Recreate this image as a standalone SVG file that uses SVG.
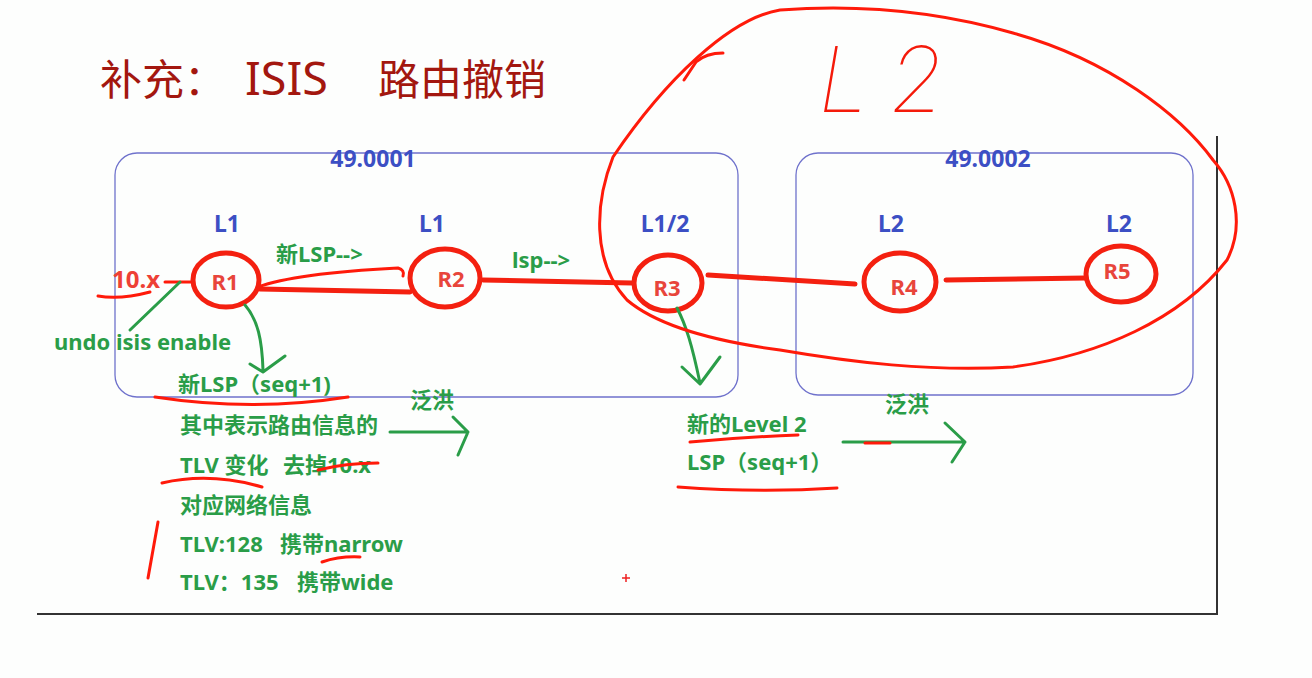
<svg xmlns="http://www.w3.org/2000/svg" width="1312" height="678" viewBox="0 0 1312 678">
<defs>
<style>
.bg{fill:#fdfefd}
.area{fill:none;stroke:#6f72cc;stroke-width:1.3}
.frame{fill:none;stroke:#333;stroke-width:2}
.blue{font-family:"Noto Sans","Noto Sans CJK SC",sans-serif;font-weight:bold;font-size:23px;fill:#3c4fc4}
.rt{fill:none;stroke:#f42010;stroke-width:5}
.rl{font-family:"Noto Sans",sans-serif;font-weight:bold;font-size:22px;fill:#e8453b;text-anchor:middle}
.link{fill:none;stroke:#f42010;stroke-width:5;stroke-linecap:round}
.pen{fill:none;stroke:#ff1a0a;stroke-width:3;stroke-linecap:round;stroke-linejoin:round}
.gpen{fill:none;stroke:#2a9d48;stroke-width:3;stroke-linecap:round;stroke-linejoin:round}
.g{font-family:"Noto Sans","Noto Sans CJK SC",sans-serif;font-weight:bold;font-size:22px;fill:#2a9d48}
.title{font-family:"Noto Sans CJK SC",sans-serif;font-size:42px;fill:#a3170f}
</style>
</defs>
<rect class="bg" x="0" y="0" width="1312" height="678"/>
<text class="title" y="95"><tspan x="100">补充：</tspan><tspan x="245" font-family="Noto Sans,sans-serif" font-size="45" textLength="83" lengthAdjust="spacingAndGlyphs">ISIS</tspan><tspan x="378">路由撤销</tspan></text>
<path class="frame" d="M37,614 H1217 V136"/>
<g id="area1"><rect class="area" x="115" y="153" width="623" height="244" rx="22"/><text class="blue" x="373" y="167" text-anchor="middle">49.0001</text></g>
<g id="area2"><rect class="area" x="796" y="153" width="397" height="242" rx="22"/><text class="blue" x="988" y="167" text-anchor="middle">49.0002</text></g>
<g id="connectors">
<path class="link" d="M260,289 L410,292"/>
<path class="link" d="M483,280 L632,283"/>
<path class="link" d="M708,275 L855,284"/>
<path class="link" d="M946,280 L1086,278"/>
<path class="pen" d="M165,282 L192,282"/>
<path class="pen" d="M258,287 C290,275 360,270 398,268 Q405,270 403,276"/>
</g>
<g id="R1"><text class="blue" x="227" y="232" text-anchor="middle">L1</text><ellipse class="rt" cx="226" cy="280" rx="33" ry="27"/><text class="rl" x="225" y="290">R1</text></g>
<g id="R2"><text class="blue" x="432" y="232" text-anchor="middle">L1</text><ellipse class="rt" cx="445" cy="278" rx="35" ry="29"/><text class="rl" x="451" y="287">R2</text></g>
<g id="R3"><text class="blue" x="665" y="232" text-anchor="middle">L1/2</text><ellipse class="rt" cx="668" cy="283" rx="34" ry="28"/><text class="rl" x="667" y="296">R3</text></g>
<g id="R4"><text class="blue" x="891" y="232" text-anchor="middle">L2</text><ellipse class="rt" cx="900" cy="282" rx="36" ry="29"/><text class="rl" x="904" y="295">R4</text></g>
<g id="R5"><text class="blue" x="1119" y="232" text-anchor="middle">L2</text><ellipse class="rt" cx="1121" cy="274" rx="35" ry="28"/><text class="rl" x="1117" y="279">R5</text></g>
<g id="annotations">
<text x="112" y="288" font-family="Noto Sans,sans-serif" font-weight="bold" font-size="24" fill="#ee4035">10.x</text>
<path class="pen" d="M98,296 Q120,300 150,292"/>
<path class="gpen" d="M180,282 L130,330"/>
<text class="g" x="54" y="350">undo isis enable</text>
<text class="g" x="276" y="262">新LSP--&gt;</text>
<text class="g" x="512" y="268">lsp--&gt;</text>
<path class="gpen" d="M245,305 C258,320 262,340 263,370 M250,364 L263,372 L285,356"/>
<path class="gpen" d="M677,308 C686,325 692,345 700,383 M682,367 L700,384 L720,357"/>
<text class="g" x="178" y="392">新LSP（seq+1)</text>
<text class="g" x="180" y="433">其中表示路由信息的</text>
<text class="g" y="473"><tspan x="180">TLV 变化</tspan><tspan x="283">去掉10.x</tspan></text>
<text class="g" x="180" y="513">对应网络信息</text>
<text class="g" y="552"><tspan x="180">TLV:128</tspan><tspan x="280">携带narrow</tspan></text>
<text class="g" y="590"><tspan x="180">TLV：135</tspan><tspan x="297">携带wide</tspan></text>
<text class="g" x="410" y="408">泛洪</text>
<path class="gpen" d="M390,432 L468,432 M453,417 L468,432 L458,455"/>
<path class="pen" d="M155,397 Q253,412 348,397"/>
<path class="pen" d="M162,483 Q210,472 262,487"/>
<path class="pen" d="M318,470 Q345,463 378,463"/>
<path class="pen" d="M158,522 L148,578"/>
<path class="pen" d="M322,562 Q340,556 360,557"/>
<text class="g" x="687" y="432">新的Level 2</text>
<text class="g" x="687" y="470">LSP（seq+1）</text>
<text class="g" x="885" y="412">泛洪</text>
<path class="gpen" d="M843,442 L965,442 M945,423 L965,442 L952,462"/>
<path class="pen" d="M865,443 L890,443"/>
<path class="pen" d="M690,442 Q745,437 798,435"/>
<path class="pen" d="M678,487 Q760,493 837,488"/>
<path d="M622,578 H630 M626,574 V582" stroke="#ee2020" stroke-width="1.5"/>
<path class="pen" d="M780,10 C730,18 665,80 613,157 C596,200 590,260 627,300 C660,328 720,342 780,350 C850,362 930,372 1013,367 C1100,355 1180,320 1227,260 C1245,225 1235,185 1213,160 C1180,115 1110,60 1013,33 C940,12 860,4 780,10 Z"/>
<path class="pen" d="M723,53 Q706,53 696,62 L684,80"/>
<text x="820" y="112" font-family="Roboto,sans-serif" font-weight="100" font-style="italic" font-size="92" letter-spacing="26" fill="#f41a0a">L2</text>
</g>
</svg>
